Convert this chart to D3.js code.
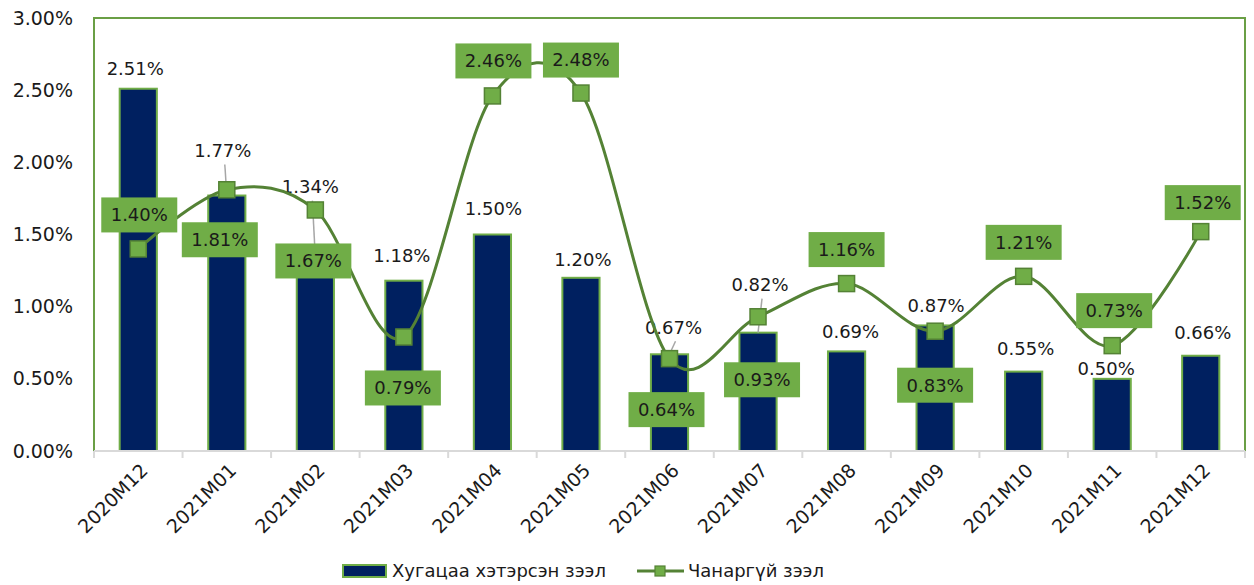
<!DOCTYPE html>
<html>
<head>
<meta charset="utf-8">
<script src="https://cdn.jsdelivr.net/npm/d3@7"></script>
<style>
  html, body { margin: 0; padding: 0; background: #ffffff; }
  svg { display: block; font-family: "DejaVu Sans", "Noto Sans", sans-serif; }
</style>
</head>
<body>
<svg id="chart" width="1254" height="585"></svg>
<script>
// Monthly loan quality ratios
const categories = ["2020M12", "2021M01", "2021M02", "2021M03", "2021M04", "2021M05", "2021M06",
                    "2021M07", "2021M08", "2021M09", "2021M10", "2021M11", "2021M12"];
const overdueLoans = [2.51, 1.77, 1.34, 1.18, 1.50, 1.20, 0.67, 0.82, 0.69, 0.87, 0.55, 0.50, 0.66];
const nonPerformingLoans = [1.40, 1.81, 1.67, 0.79, 2.46, 2.48, 0.64, 0.93, 1.16, 0.83, 1.21, 0.73, 1.52];
const yTicks = [0, 0.5, 1.0, 1.5, 2.0, 2.5, 3.0];
const seriesNames = ["Хугацаа хэтэрсэн зээл", "Чанаргүй зээл"];

// Label placement: [dx, dy from bar top, draw leader]
const barLabelPlacement = [
  [-3, -20, false], [-4, -45, true], [-5, -71, true], [-2, -25, false],
  [1, -26, false], [2, -18, false], [4, -27, true], [2, -48, true],
  [4, -20, false], [1, -20, false], [2, -23, false], [-6, -10, false], [2, -23, false]
];
// Label placement for line points: [dx, dy from marker]
const lineLabelPlacement = [
  [1, -34], [-7, 50], [-2, 51], [-1, 51], [1, -35], [0, -33], [-3, 51],
  [4, 63], [0, -34], [0, 54], [0, -34], [2, -35], [2, -29]
];

const W = 1254, H = 585;
const margin = { top: 18, right: 9, bottom: 134, left: 94 };
const plotW = W - margin.left - margin.right;
const plotH = H - margin.top - margin.bottom;

const navy = "#002060";
const lightGreen = "#70AD47";
const darkGreen = "#548235";
const textColor = "#1a1a1a";

const svg = d3.select("#chart");
const g = svg.append("g").attr("transform", `translate(${margin.left},${margin.top})`);

const x = d3.scaleBand().domain(categories).range([0, plotW]).paddingInner(0).paddingOuter(0);
const y = d3.scaleLinear().domain([0, 3]).range([plotH, 0]);
const fmt = v => v.toFixed(2) + "%";
const barW = x.bandwidth() * 0.42;
const cx = c => x(c) + x.bandwidth() / 2;

// Plot frame
g.append("path")
  .attr("d", `M0,${plotH} V0 H${plotW} V${plotH}`)
  .attr("fill", "none").attr("stroke", "#6a9f45").attr("stroke-width", 2);

// Y axis labels
const yAxis = d3.axisLeft(y).tickValues(yTicks).tickFormat(d => d.toFixed(2) + "%").tickSize(0).tickPadding(21);
const yG = g.append("g").call(yAxis);
yG.select(".domain").remove();
yG.selectAll("text").attr("font-size", 19).attr("fill", textColor)
  .attr("font-family", "DejaVu Sans, sans-serif");

// Bars
g.selectAll("rect.bar").data(overdueLoans).join("rect")
  .attr("class", "bar")
  .attr("x", (d, i) => cx(categories[i]) - barW / 2)
  .attr("y", d => y(d))
  .attr("width", barW)
  .attr("height", d => plotH - y(d))
  .attr("fill", navy).attr("stroke", lightGreen).attr("stroke-width", 2);

// X axis with boundary ticks
const xAxisG = g.append("g").attr("transform", `translate(0,${plotH})`);
xAxisG.append("line").attr("x1", 0).attr("x2", plotW).attr("y1", 0).attr("y2", 0)
  .attr("stroke", "#d9d9d9").attr("stroke-width", 2);
const bounds = categories.map(c => x(c)).concat([plotW]);
xAxisG.selectAll("line.tick").data(bounds).join("line")
  .attr("class", "tick")
  .attr("x1", d => d).attr("x2", d => d).attr("y1", 0).attr("y2", 7)
  .attr("stroke", "#d9d9d9").attr("stroke-width", 2);
xAxisG.selectAll("text").data(categories).join("text")
  .attr("transform", d => `translate(${cx(d) + 6},${16}) rotate(-45)`)
  .attr("text-anchor", "end").attr("dy", "0.35em")
  .attr("font-size", 19).attr("fill", textColor)
  .text(d => d);

// Leader lines for moved bar labels
const leaderData = overdueLoans
  .map((v, i) => ({ v, i, p: barLabelPlacement[i] }))
  .filter(d => d.p[2]);
g.selectAll("line.leader").data(leaderData).join("line")
  .attr("class", "leader")
  .attr("x1", d => cx(categories[d.i]) + d.p[0] + 2)
  .attr("y1", d => y(d.v) + d.p[1] + 14)
  .attr("x2", d => cx(categories[d.i]))
  .attr("y2", d => y(d.v))
  .attr("stroke", "#a6a6a6").attr("stroke-width", 1.5);

// Bar value labels
g.selectAll("text.barLabel").data(overdueLoans).join("text")
  .attr("class", "barLabel")
  .attr("x", (d, i) => cx(categories[i]) + barLabelPlacement[i][0])
  .attr("y", (d, i) => y(d) + barLabelPlacement[i][1])
  .attr("dy", "0.35em").attr("text-anchor", "middle")
  .attr("font-size", 18).attr("fill", textColor)
  .text(fmt);

// Smoothed line
const line = d3.line()
  .x((d, i) => cx(categories[i]))
  .y(d => y(d))
  .curve(d3.curveCardinal.tension(0));
g.append("path").datum(nonPerformingLoans)
  .attr("d", line).attr("fill", "none")
  .attr("stroke", darkGreen).attr("stroke-width", 3);

// Square markers
const ms = 16;
g.selectAll("rect.marker").data(nonPerformingLoans).join("rect")
  .attr("class", "marker")
  .attr("x", (d, i) => cx(categories[i]) - ms / 2)
  .attr("y", d => y(d) - ms / 2)
  .attr("width", ms).attr("height", ms)
  .attr("fill", lightGreen).attr("stroke", darkGreen).attr("stroke-width", 1.5);

// Boxed line value labels
const lineLabels = g.selectAll("g.lineLabel").data(nonPerformingLoans).join("g")
  .attr("class", "lineLabel")
  .attr("transform", (d, i) => `translate(${cx(categories[i]) + lineLabelPlacement[i][0]},${y(d) + lineLabelPlacement[i][1]})`);
lineLabels.append("rect")
  .attr("x", -38).attr("y", -17.5).attr("width", 76).attr("height", 35)
  .attr("fill", lightGreen);
lineLabels.append("text")
  .attr("text-anchor", "middle").attr("dy", "0.35em")
  .attr("font-size", 18).attr("fill", textColor)
  .text(fmt);

// Legend
const legend = svg.append("g").attr("transform", "translate(0,571)");
legend.append("rect").attr("x", 343).attr("y", -6).attr("width", 43).attr("height", 12)
  .attr("fill", navy).attr("stroke", lightGreen).attr("stroke-width", 2);
legend.append("text").attr("x", 392).attr("y", 0).attr("dy", "0.35em")
  .attr("font-size", 18).attr("fill", textColor).text(seriesNames[0]);
legend.append("line").attr("x1", 637).attr("x2", 684).attr("y1", 0).attr("y2", 0)
  .attr("stroke", darkGreen).attr("stroke-width", 3);
legend.append("rect").attr("x", 655).attr("y", -5).attr("width", 10).attr("height", 10)
  .attr("fill", lightGreen).attr("stroke", darkGreen).attr("stroke-width", 1.2);
legend.append("text").attr("x", 688).attr("y", 0).attr("dy", "0.35em")
  .attr("font-size", 18).attr("fill", textColor).text(seriesNames[1]);
</script>
</body>
</html>
